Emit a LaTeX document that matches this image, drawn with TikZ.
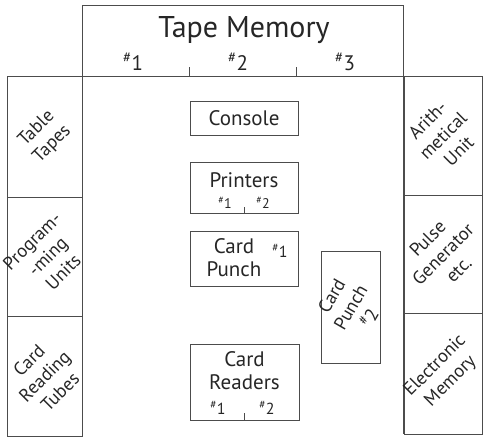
\documentclass[tikz,border=0pt]{standalone}
\usepackage{fontspec}
\setmainfont{PT Sans}
\newcommand\nr[1]{\textsuperscript{\#}#1}
\begin{document}
\begin{tikzpicture}[x=1pt,y=-1pt,
  linec/.style={draw=black!70, line width=0.8pt},
  cell/.style={linec, rectangle, inner sep=0pt, minimum width=#1},
  lbl/.style={font=\fontsize{18.5}{22}\selectfont, align=center, inner sep=0pt, text=black!85},
  inner/.style={font=\fontsize{21}{23}\selectfont, align=center, inner sep=0pt, text=black!85},
  tick/.style={draw=black!70, line width=0.6pt}
]
\useasboundingbox (0,0) rectangle (484,439);
% top tape memory box
\node[cell=321pt, minimum height=71pt] (tape) at (242.5,40.5) {};
% left cells
\node[cell=75pt, minimum height=121pt] (tt) at (44.5,136.5) {};
\node[cell=75pt, minimum height=119pt] (pu) at (44.5,256.5) {};
\node[cell=75pt, minimum height=120pt] (crt) at (44.5,376) {};
% right cells
\node[cell=78pt, minimum height=119pt] (au) at (443,135.5) {};
\node[cell=78pt, minimum height=118pt] (pg) at (443,254) {};
\node[cell=78pt, minimum height=121pt] (em) at (443,373.5) {};
% main area side lines
\draw[linec] (tt.north east) -- (crt.south east);
\draw[linec] (au.north west) -- (em.south west);
% inner boxes
\node[cell=108pt, minimum height=34pt] (console) at (244,118) {};
\node[cell=108pt, minimum height=51pt] (printers) at (244,187.5) {};
\node[cell=108pt, minimum height=55pt] (punch1) at (244,258.5) {};
\node[cell=59pt, minimum height=112pt] (punch2) at (350.5,307) {};
\node[cell=109pt, minimum height=76pt] (readers) at (244.5,382) {};
% tape memory text
\node[font=\fontsize{30}{32}\selectfont, inner sep=0pt, text=black!85] (tmt) at (244,30) {Tape Memory};
\node[font=\fontsize{21}{22}\selectfont, inner sep=0pt, text=black!85] (t1) at (133,62) {\nr{1}};
\node[font=\fontsize{21}{22}\selectfont, inner sep=0pt, text=black!85] (t2) at (238,62) {\nr{2}};
\node[font=\fontsize{21}{22}\selectfont, inner sep=0pt, text=black!85] (t3) at (345,62) {\nr{3}};
\draw[tick] (tape.south west) ++(108,0) coordinate (k1) -- ++(0,-9);
\draw[tick] (tape.south west) ++(215,0) coordinate (k2) -- ++(0,-9);
% side labels
\node[lbl, rotate=45] (ttl) at (tt) {Table\\Tapes};
\node[lbl, rotate=45] (pul) at ([xshift=3pt]pu.center) {Program-\\-ming\\Units};
\node[lbl, rotate=45] (crtl) at (crt) {Card\\Reading\\Tubes};
\node[lbl, rotate=45] (aul) at (au) {Arith-\\metical\\Unit};
\node[lbl, rotate=45] (pgl) at (pg) {Pulse\\Generator\\etc.};
\node[lbl, rotate=45] (eml) at (em) {Electronic\\Memory};
% inner texts
\node[inner] (consolel) at (console) {Console};
\node[inner] (printersl) at (244,180) {Printers};
\node[font=\fontsize{14}{15}\selectfont, inner sep=0pt, text=black!85] (p1) at (225,203) {\nr{1}};
\node[font=\fontsize{14}{15}\selectfont, inner sep=0pt, text=black!85] (p2) at (263,203) {\nr{2}};
\draw[tick] (printers.south) -- ++(0,-6);
\node[inner] (punch1l) at (234,258) {Card\\Punch};
\node[font=\fontsize{16}{17}\selectfont, inner sep=0pt, text=black!85] (c1) at (280,251) {\nr{1}};
\node[lbl, rotate=60] (punch2l) at (punch2) {Card\\Punch\\\nr{2}};
\node[inner] (readersl) at (244.5,371) {Card\\Readers};
\node[font=\fontsize{16}{17}\selectfont, inner sep=0pt, text=black!85] (r1) at (218,408) {\nr{1}};
\node[font=\fontsize{16}{17}\selectfont, inner sep=0pt, text=black!85] (r2) at (267,408) {\nr{2}};
\draw[tick] (readers.south) -- ++(0,-7);
\end{tikzpicture}
\end{document}
